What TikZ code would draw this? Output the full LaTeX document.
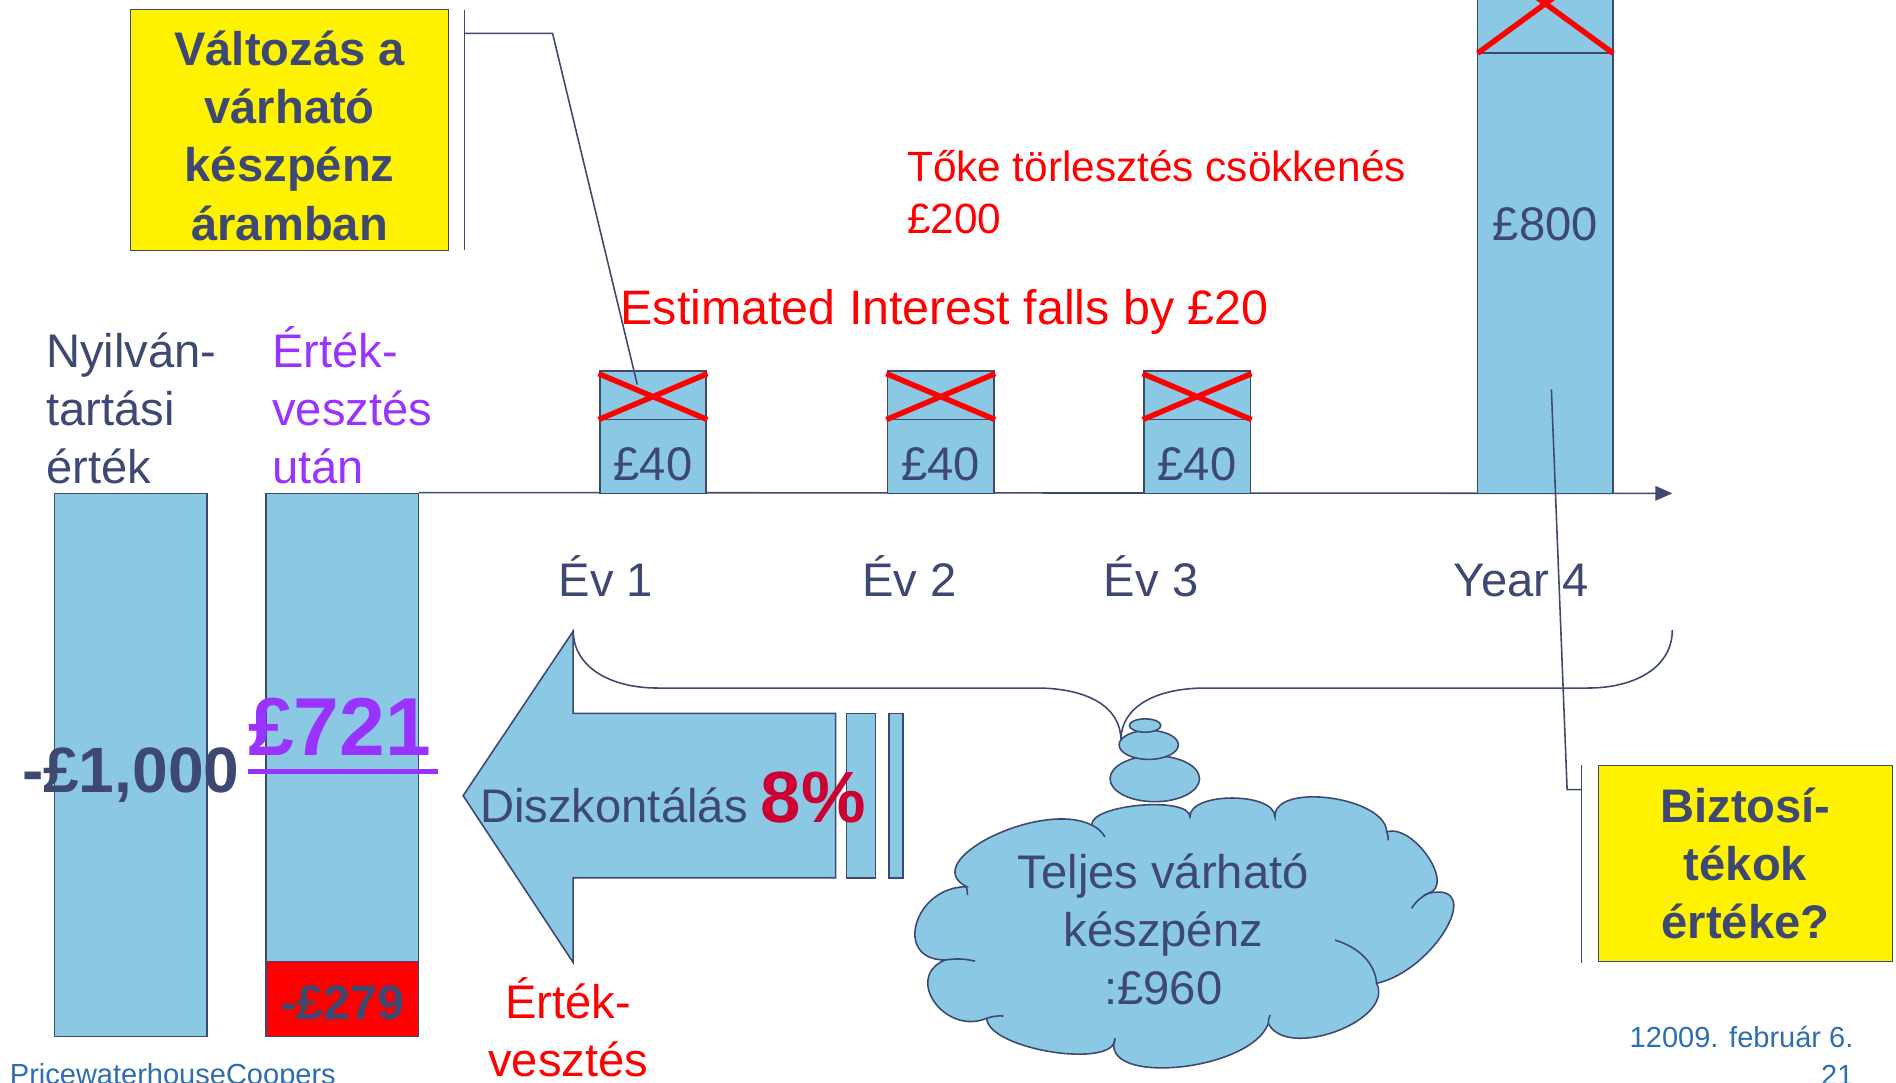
\documentclass[tikz,border=0pt]{standalone}
\usepackage{xcolor}
\usepackage{fontspec}
\setmainfont{Liberation Sans}
\usetikzlibrary{arrows.meta,shapes.geometric,calc}

\definecolor{pwcnavy}{RGB}{61,72,115}
\definecolor{pwcfill}{RGB}{139,200,228}
\definecolor{pwcpurple}{RGB}{153,51,255}
\definecolor{pwcwine}{RGB}{204,0,51}
\definecolor{pwcfoot}{RGB}{46,110,176}

\newcommand{\fnorm}{\fontsize{39}{48}\selectfont}
\newcommand{\fsmall}{\fontsize{35}{43}\selectfont}
\newcommand{\ffoot}{\fontsize{24}{32}\selectfont}
\newcommand{\fbold}{\fontsize{39}{48}\selectfont\bfseries}

\begin{document}
\begin{tikzpicture}[x=1pt,y=-1pt]
  \tikzstyle{every node}=[inner sep=0pt, text=pwcnavy]
  \tikzstyle{bar}=[draw=pwcnavy, fill=pwcfill, line width=1.3pt]
  \tikzstyle{note}=[draw=pwcnavy, fill=yellow, line width=1.3pt]
  \tikzstyle{notetext}=[align=center, font=\fbold, anchor=base]
  \tikzstyle{cross}=[draw=red, line width=4.5pt]
  \tikzstyle{wire}=[draw=pwcnavy, line width=1.3pt]
  \useasboundingbox (0,0) rectangle (1568,895);
  \clip (0,0) rectangle (1568,895);

  % value bars
  \node[bar, minimum width=126, minimum height=449] (book) at (108,632.5) {};
  \node[bar, minimum width=126, minimum height=449] (after) at (283,632.5) {};
  \node[bar, fill=red, minimum width=126, minimum height=62] (loss) at (283,826) {};
  \node[anchor=base west, align=left, font=\fnorm] at (38,400) {Nyilván-\\tartási\\érték};
  \node[anchor=base west, align=left, font=\fnorm, text=pwcpurple] at (225,400) {Érték-\\vesztés\\után};
  \node[anchor=base west] (v1000) at (18,655) {\fontsize{53}{60}\selectfont\bfseries -£1,000};
  \node[anchor=base west, text=pwcpurple] (v721) at (205,625) {\fontsize{68}{70}\selectfont\bfseries £721};
  \draw[pwcpurple, line width=4pt] (205,638) -- (362,638);
  \node[anchor=base] (v279) at (283,843) {\fontsize{40}{48}\selectfont\bfseries -£279};

  % time axis
  \draw[wire, -{Triangle[length=14pt,width=12pt]}] (after.north east) -- (1383,408);
  \foreach \n/\x in {y1/540, y2/778, y3/990}{
    \node[bar, minimum width=88, minimum height=101] (\n) at (\x,357.5) {};
    \draw[wire] (\x-44,347) -- (\x+44,347);
    \node[anchor=base, font=\fnorm] at (\x,397) {£40};
    \draw[cross] (\x-45,309) -- (\x+45,347) (\x-45,347) -- (\x+45,309);
  }
  \node[bar, minimum width=112, minimum height=414] (y4) at (1278,201) {};
  \draw[wire] (1222,44) -- (1334,44);
  \node[anchor=base, font=\fnorm] at (1278,199) {£800};
  \draw[cross] (1222,44) -- (1334,-38) (1334,44) -- (1222,-38);
  \foreach \x/\lab in {501/Év 1, 752/Év 2, 952/Év 3, 1258/Year 4}
    \node[anchor=base, font=\fnorm] at (\x,493) {\lab};

  % red notes
  \node[anchor=base west, text=red, align=left, font=\fsmall] at (750,193) {Tőke törlesztés csökkenés\\£200};
  \node[anchor=base west, text=red, font=\fontsize{40}{48}\selectfont] at (513,268) {Estimated Interest falls by £20};

  % callouts
  \node[note, minimum width=263, minimum height=199] (chg) at (239.5,107.5) {};
  \node[notetext] at (239.5,198.5) {Változás a\\várható\\készpénz\\áramban};
  \coordinate (hit1) at (527,318);
  \draw[wire] (384,8) -- (384,207);
  \draw[wire] (384,27.6) -- (457,27.6) -- (hit1);
  \node[note, minimum width=243, minimum height=162] (coll) at (1443.5,714) {};
  \node[notetext] at (1443.5,776) {Biztosí-\\tékok\\értéke?};
  \coordinate (hit4) at (1283,322);
  \draw[wire] (1308,633) -- (1308,796);
  \draw[wire] (1308,653) -- (1296,653) -- (hit4);

  % discount arrow
  \draw[bar] (691,590) -- (474,590) -- (474,522) -- (383,658) -- (474,796) -- (474,726) -- (691,726) -- cycle;
  \draw[bar] (700,590) rectangle (724,726);
  \draw[bar] (735,590) rectangle (747,726);
  \node[anchor=base west, font=\fnorm] (disc) at (397,680) {Diszkontálás {\fontsize{60}{60}\selectfont\bfseries\color{pwcwine}8\%}};
  \node[anchor=base, text=red, align=center, font=\fnorm] at (470,890) {Érték-\\vesztés};

  % brace
  \coordinate (bl) at (474,521);
  \coordinate (br) at (1383,521);
  \coordinate (tip) at (927,612);
  \draw[wire] (bl) .. controls (474,552) and (505,569) .. (544,569) -- (857,569)
    .. controls (900,569) and (927,585) .. (tip)
    .. controls (927,585) and (955,569) .. (997,569) -- (1313,569)
    .. controls (1352,569) and (1383,552) .. (br);

  % cloud: puff ends and puff tops
  \foreach \n/\x/\y in {pa/799.4/733.3, pb/902.8/682.3, pc/984.1/675.4, pd/1054.4/675.4,
      pe/1146.8/687.8, pf/1181.2/738.8, pg/1138.5/813.2, ph/1048.9/846.3,
      pi/922.1/858.7, pj/816/842.1, pk/781.5/793.9,
      m1/820/692, m2/943/666, m3/1019/660, m4/1100/660, m5/1181/708.5, m6/1196/768,
      m7/1105/853, m8/975/882.5, m9/870/870, m10/773/829, m11/758/763.6}
    \coordinate (\n) at (\x,\y);
  \foreach \p/\m/\q [count=\i] in {pa/m1/pb, pb/m2/pc, pc/m3/pd, pd/m4/pe, pe/m5/pf, pf/m6/pg,
      pg/m7/ph, ph/m8/pi, pi/m9/pj, pj/m10/pk, pk/m11/pa}{
    \coordinate (c\i a) at ($0.3333*(\p)+1.3333*(\m)-0.6667*(\q)$);
    \coordinate (c\i b) at ($0.3333*(\q)+1.3333*(\m)-0.6667*(\p)$);
  }
  \draw[bar] (pa) .. controls (c1a) and (c1b) .. (pb) .. controls (c2a) and (c2b) .. (pc)
    .. controls (c3a) and (c3b) .. (pd) .. controls (c4a) and (c4b) .. (pe)
    .. controls (c5a) and (c5b) .. (pf) .. controls (c6a) and (c6b) .. (pg)
    .. controls (c7a) and (c7b) .. (ph) .. controls (c8a) and (c8b) .. (pi)
    .. controls (c9a) and (c9b) .. (pj) .. controls (c10a) and (c10b) .. (pk)
    .. controls (c11a) and (c11b) .. (pa) -- cycle;
  % inner puff lines
  \draw[wire] (pb) to[bend left=15] (913.8,692);
  \draw[wire] (pe) to[bend left=10] (1148.1,695);
  \draw[wire] (pf) to[bend right=15] (1167.4,751.2);
  \draw[wire] (1104,777.4) .. controls (1125,784) and (1137,797) .. (pg);
  \draw[wire] (ph) to[bend left=10] (1050.3,839.4);
  \draw[wire] (pj) to[bend left=10] (829.7,840.2);
  \draw[wire] (pk) to[bend left=10] (806.3,794.8);
  \draw[wire] (pa) -- (800.2,740.2);
  \node[bar, ellipse, minimum width=74, minimum height=38] (b3) at (955,644) {};
  \node[bar, ellipse, minimum width=49, minimum height=24] (b2) at (950,616) {};
  \node[bar, ellipse, minimum width=26, minimum height=11] (b1) at (947,600) {};
  \node[anchor=base, align=center, font=\fnorm] (cash) at (962,831) {Teljes várható\\készpénz\\:£960};

  % footer
  \node[anchor=base west, text=pwcfoot, font=\ffoot] at (8,897) {PricewaterhouseCoopers};
  \node[anchor=base east, text=pwcfoot, align=right, font=\ffoot] at (1533,898) {12009. február 6.\\21};
\end{tikzpicture}
\end{document}
